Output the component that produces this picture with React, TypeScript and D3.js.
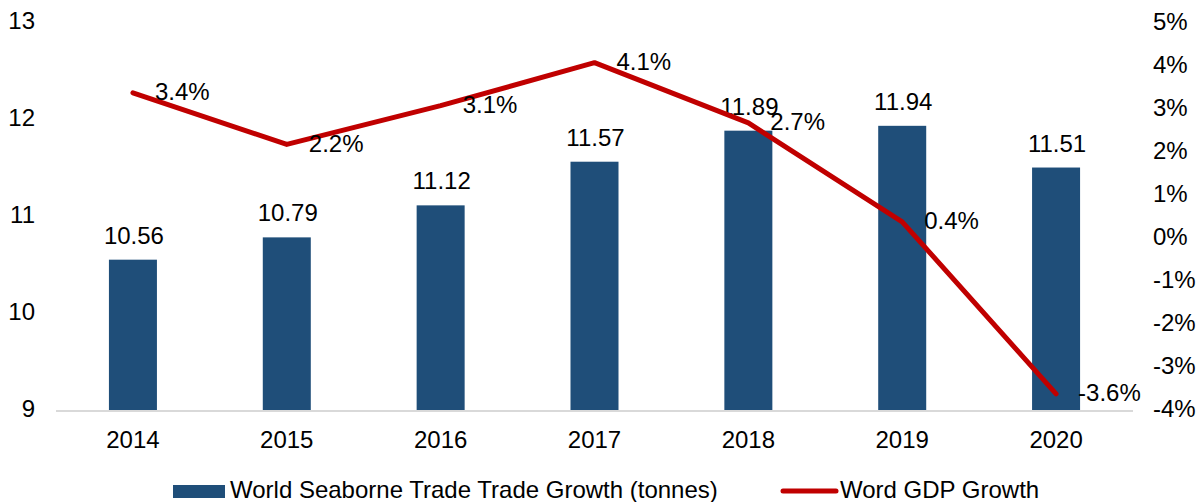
import React from "react";
import * as d3 from "d3";

const years = ["2014", "2015", "2016", "2017", "2018", "2019", "2020"];
const tradeValues = [10.56, 10.79, 11.12, 11.57, 11.89, 11.94, 11.51];
const gdpGrowth = [3.4, 2.2, 3.1, 4.1, 2.7, 0.4, -3.6];
const leftTicks = [9, 10, 11, 12, 13];
const rightTicks = [5, 4, 3, 2, 1, 0, -1, -2, -3, -4];
const barLegend = "World Seaborne Trade Trade Growth (tonnes)";
const lineLegend = "Word GDP Growth";

const W = 1204;
const H = 502;
const FONT = "'Liberation Sans', Arial, sans-serif";
const BAR = "#1f4e79";
const LINE = "#c00000";
const FS = 24;

export default function App() {
  const x = d3.scalePoint<string>().domain(years).range([56, 1133]).padding(0.5);
  const step = x.step();
  const bw = step * 0.312;
  const yL = d3.scaleLinear().domain([9, 13]).range([411, 23]);
  const yR = d3.scaleLinear().domain([-4, 5]).range([411, 24]);
  const line = d3
    .line<number>()
    .x((_, i) => x(years[i])!)
    .y((d) => yR(d));

  return (
    <svg
      width={W}
      height={H}
      style={{ position: "absolute", left: 0, top: 0, background: "#fff" }}
      fontFamily={FONT}
    >
      {tradeValues.map((v, i) => (
        <rect
          key={years[i]}
          x={x(years[i])! - bw / 2}
          y={yL(v)}
          width={bw}
          height={yL(9) - yL(v)}
          fill={BAR}
        />
      ))}
      <line x1={56} x2={1133} y1={yL(9)} y2={yL(9)} stroke="#d9d9d9" strokeWidth={2} />
      {leftTicks.map((t) => (
        <text key={t} x={35} y={yL(t)} textAnchor="end" dominantBaseline="middle" fontSize={FS} fill="#000">
          {t}
        </text>
      ))}
      {rightTicks.map((t) => (
        <text key={t} x={1153} y={yR(t)} textAnchor="start" dominantBaseline="middle" fontSize={FS} fill="#000">
          {t + "%"}
        </text>
      ))}
      {years.map((yr) => (
        <text key={yr} x={x(yr)!} y={448} textAnchor="middle" fontSize={FS} fill="#000">
          {yr}
        </text>
      ))}
      {tradeValues.map((v, i) => (
        <text key={"bl" + i} x={x(years[i])! + 1} y={yL(v) - 16} textAnchor="middle" fontSize={FS} fill="#000">
          {v.toFixed(2)}
        </text>
      ))}
      <path d={line(gdpGrowth)!} fill="none" stroke={LINE} strokeWidth={5} strokeLinecap="round" strokeLinejoin="round" />
      {gdpGrowth.map((v, i) => (
        <text key={"ll" + i} x={x(years[i])! + 22} y={yR(v) + 1} dominantBaseline="middle" fontSize={FS} fill="#000">
          {v.toFixed(1) + "%"}
        </text>
      ))}
      <rect x={173} y={485} width={52} height={13} fill={BAR} />
      <text x={230} y={498} fontSize={FS} fill="#000">{barLegend}</text>
      <line x1={783} x2={836} y1={491} y2={491} stroke={LINE} strokeWidth={5} strokeLinecap="round" />
      <text x={840} y={498} fontSize={FS} fill="#000">{lineLegend}</text>
    </svg>
  );
}
